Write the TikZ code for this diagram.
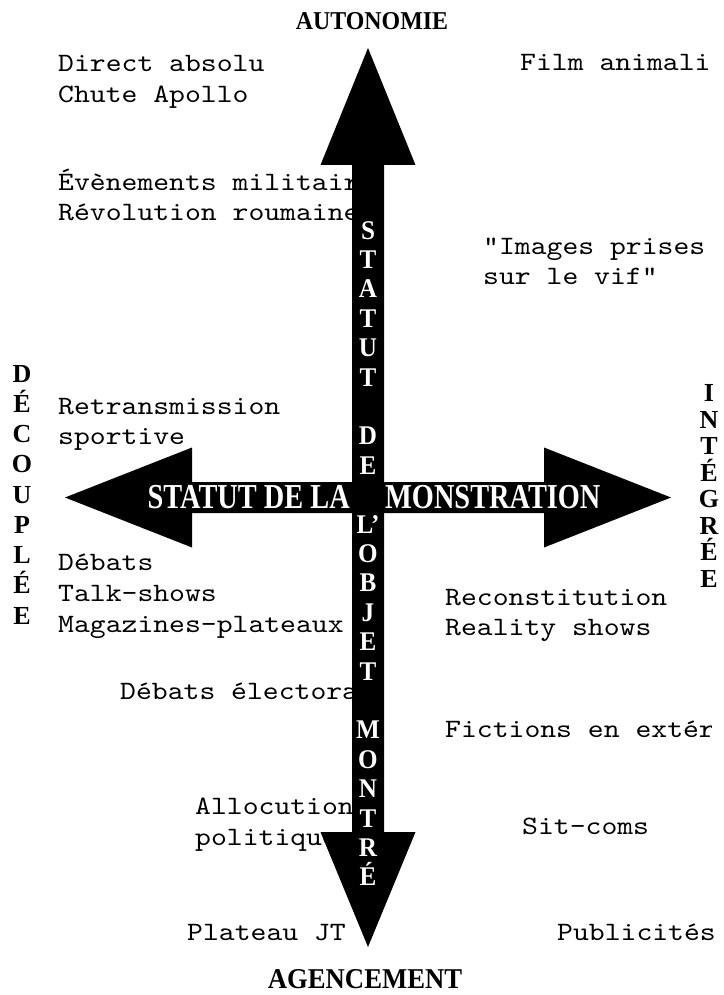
\documentclass[tikz,border=0pt]{standalone}
\usepackage{fontspec}
\setmainfont{Liberation Serif}
\newfontfamily\genrefont[FakeStretch=1.14]{lmmono10-regular.otf}
\newfontfamily\polefont[FakeStretch=0.93]{Liberation Serif}
\newfontfamily\bandfont[FakeStretch=0.81]{Liberation Serif}
\usetikzlibrary{positioning}
\tikzset{
  genre/.style={anchor=base west, inner sep=0pt, align=left,
    font=\genrefont\fontsize{26.5}{#1}\selectfont},
  genre/.default=31,
  pole/.style={anchor=base, inner sep=0pt, align=center,
    font=\polefont\bfseries\fontsize{#1}{#1}\selectfont},
  side/.style={anchor=base, inner sep=0pt, align=center,
    font=\bfseries\fontsize{26}{#1}\selectfont},
  axis/.style={fill=black},
}

\begin{document}
\begin{tikzpicture}[x=1pt, y=-1pt,
  stack/.style={anchor=base, inner sep=0pt, align=center, text=white,
    font=\polefont\bfseries\fontsize{27}{29.4}\selectfont},
  band/.style={anchor=base, inner sep=0pt, text=white,
    font=\bandfont\bfseries\fontsize{35}{35}\selectfont}]
  \useasboundingbox (0,0) rectangle (723,995);
  % genres, left half (hidden under the vertical arrow)
  % (multi-line nodes: base = last line)
  \begin{scope}
    \clip (0,0) rectangle (380,995);
    \node[genre] (direct) at (58,103) {Direct absolu\\Chute Apollo};
    \node[genre=30] (events) at (58,220.5) {Évènements militaires\\Révolution roumaine};
    \node[genre=30] (sport) at (58,444.5) {Retransmission\\sportive};
    \node[genre] (debats) at (58,632.5) {Débats\\Talk-shows\\Magazines-plateaux};
    \node[genre] (electo) at (120,699.5) {Débats électoraux};
    \node[genre] (alloc) at (195,845.5) {Allocution\\politique};
    \node[genre] (jt) at (187,940.5) {Plateau JT};
  \end{scope}
  % genres, right half
  \begin{scope}
    \clip (392,0) rectangle (711,995);
    \node[genre] (film) at (520,71) {Film animalier};
    \node[genre=30] (vif) at (483,284.5) {“Images prises\\sur le vif”};
    \node[genre=30] (recon) at (445,635.5) {Reconstitution\\Reality shows};
    \node[genre] (fiction) at (445,737.5) {Fictions en extérieur};
    \node[genre] (sitcom) at (522,834.5) {Sit-coms};
  \end{scope}
  \node[genre] (pub) at (557,940.5) {Publicités};
  % the two axes
  \fill[axis] (368,48) -- (415.5,165) -- (384,165) -- (384,832) -- (415.5,832)
    -- (368,947) -- (320.5,832) -- (352,832) -- (352,165) -- (320.5,165) -- cycle;
  \fill[axis] (65,497.5) -- (192,447.5) -- (192,482) -- (544,482) -- (544,447.5)
    -- (671,497.5) -- (544,547.5) -- (544,513) -- (192,513) -- (192,547.5) -- cycle;
  \node[stack] (objet) at (368,885.8) {S\\T\\A\\T\\U\\T\\\mbox{}\\D\\E\\\mbox{}\\L’\\O\\B\\J\\E\\T\\\mbox{}\\M\\O\\N\\T\\R\\É};
  \node[band, anchor=base east] (monL) at (350,508) {STATUT DE LA};
  \node[band, anchor=base west] (monR) at (385,508) {MONSTRATION};
  % poles
  \node[pole=25.7] (auto) at (372,30) {AUTONOMIE};
  \node[pole=28.7] (agen) at (365,988) {AGENCEMENT};
  \node[side=30.25] (decoup) at (22,624) {D\\É\\C\\O\\U\\P\\L\\É\\E};
  \node[side=26.5] (integ) at (709,587) {I\\N\\T\\É\\G\\R\\É\\E};
\end{tikzpicture}
\end{document}
